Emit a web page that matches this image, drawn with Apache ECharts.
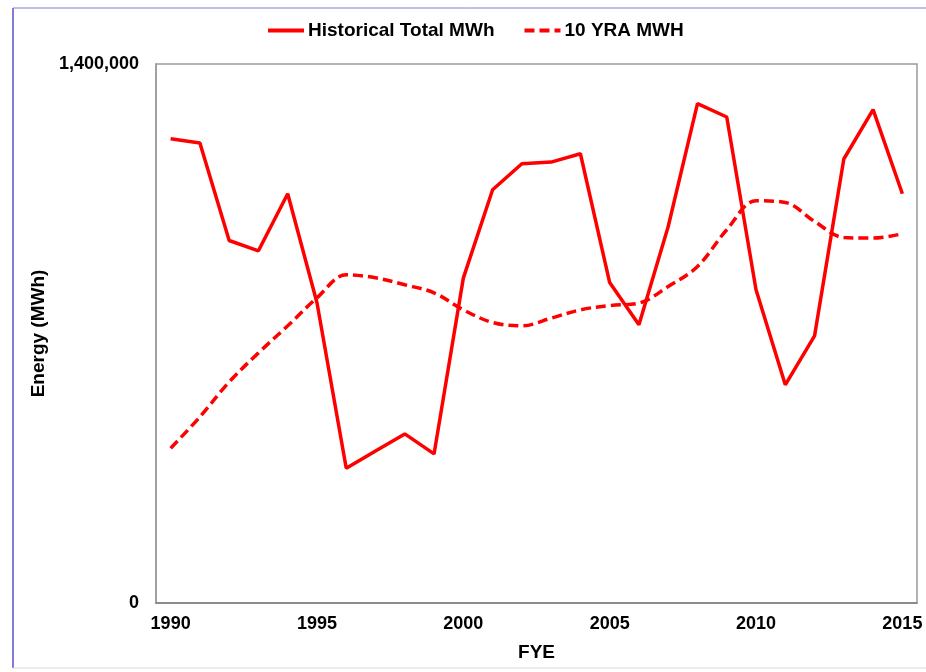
<!DOCTYPE html>
<html>
<head>
<meta charset="utf-8">
<script src="https://cdn.jsdelivr.net/npm/echarts@6/dist/echarts.min.js"></script>
<style>
  html, body { margin: 0; padding: 0; background: #ffffff; }
  #chart { width: 926px; height: 672px; }
</style>
</head>
<body>
<div id="chart"></div>
<script>
// Fiscal years shown on the category axis
const years = ['1990','1991','1992','1993','1994','1995','1996','1997','1998','1999',
               '2000','2001','2002','2003','2004','2005','2006','2007','2008','2009',
               '2010','2011','2012','2013','2014','2015'];

// Annual historical energy, MWh
const historicalTotal = [1206000, 1194700, 941600, 914800, 1063000, 779700, 350100, 395000, 439200, 387200,
                         843900, 1073400, 1141000, 1145300, 1166900, 832400, 722500, 978000, 1296900, 1262300,
                         813500, 566600, 693900, 1153200, 1281300, 1063000];

// Ten-year rolling average, MWh
const tenYearAvg = [402100, 483400, 574300, 649700, 719900, 792700, 852500, 844700, 826500, 805700,
                    761500, 728500, 719900, 739900, 761500, 772700, 778900, 822000, 874000, 969400,
                    1044800, 1040400, 991000, 949400, 947800, 959000];

const yTicks = [0, 1400000];

const font = 'Liberation Sans, Arial, sans-serif';
const chart = echarts.init(document.getElementById('chart'), null, { renderer: 'canvas' });

chart.setOption({
  animation: false,
  backgroundColor: '#ffffff',
  graphic: [
    // outer frame of the figure
    { type: 'line', shape: { x1: 13, y1: 8, x2: 13, y2: 668 }, style: { stroke: '#5a4fcf', lineWidth: 1.5 } },
    { type: 'line', shape: { x1: 13, y1: 8, x2: 926, y2: 8 }, style: { stroke: '#7f7fd8', lineWidth: 1 } },
    { type: 'line', shape: { x1: 13, y1: 668, x2: 926, y2: 668 }, style: { stroke: '#d8d8d8', lineWidth: 1 } }
  ],
  legend: {
    top: 21,
    left: 266,
    padding: 0,
    itemWidth: 36,
    itemHeight: 14,
    itemGap: 28,
    itemStyle: { opacity: 0 },
    lineStyle: { width: 4 },
    textStyle: { fontFamily: font, fontWeight: 'bold', fontSize: 19, color: '#000000', padding: [0, 0, 0, -1] },
    data: ['Historical Total MWh', '10 YRA MWH']
  },
  grid: {
    left: 156, right: 9, top: 64, bottom: 69,
    show: true, borderColor: '#9a9a9a', borderWidth: 1.5, containLabel: false
  },
  xAxis: {
    type: 'category',
    data: years,
    boundaryGap: true,
    name: 'FYE',
    nameLocation: 'middle',
    nameGap: 40,
    nameTextStyle: { fontFamily: font, fontWeight: 'bold', fontSize: 19, color: '#000000' },
    axisLine: { show: true, lineStyle: { color: '#808080', width: 1.5 } },
    axisTick: { show: false },
    axisLabel: {
      interval: 4, margin: 12,
      fontFamily: font, fontWeight: 'bold', fontSize: 18, color: '#000000'
    },
    splitLine: { show: false }
  },
  yAxis: {
    type: 'value',
    min: yTicks[0],
    max: yTicks[1],
    interval: yTicks[1] - yTicks[0],
    name: 'Energy (MWh)',
    nameLocation: 'middle',
    nameRotate: 90,
    nameGap: 106,
    nameTextStyle: { fontFamily: font, fontWeight: 'bold', fontSize: 19, color: '#000000' },
    axisLine: { show: true, lineStyle: { color: '#9a9a9a', width: 1.5 } },
    axisTick: { show: false },
    splitLine: { show: false },
    axisLabel: {
      margin: 17,
      fontFamily: font, fontWeight: 'bold', fontSize: 18, color: '#000000',
      formatter: v => v.toLocaleString('en-US')
    }
  },
  series: [
    {
      name: 'Historical Total MWh',
      type: 'line',
      data: historicalTotal,
      symbol: 'none',
      smooth: false,
      color: '#ff0000',
      lineStyle: { color: '#ff0000', width: 3.5 }
    },
    {
      name: '10 YRA MWH',
      type: 'line',
      data: tenYearAvg,
      symbol: 'none',
      smooth: 0.35,
      color: '#ff0000',
      lineStyle: { color: '#ff0000', width: 3.5, type: [10, 5] }
    }
  ]
});
</script>
</body>
</html>
